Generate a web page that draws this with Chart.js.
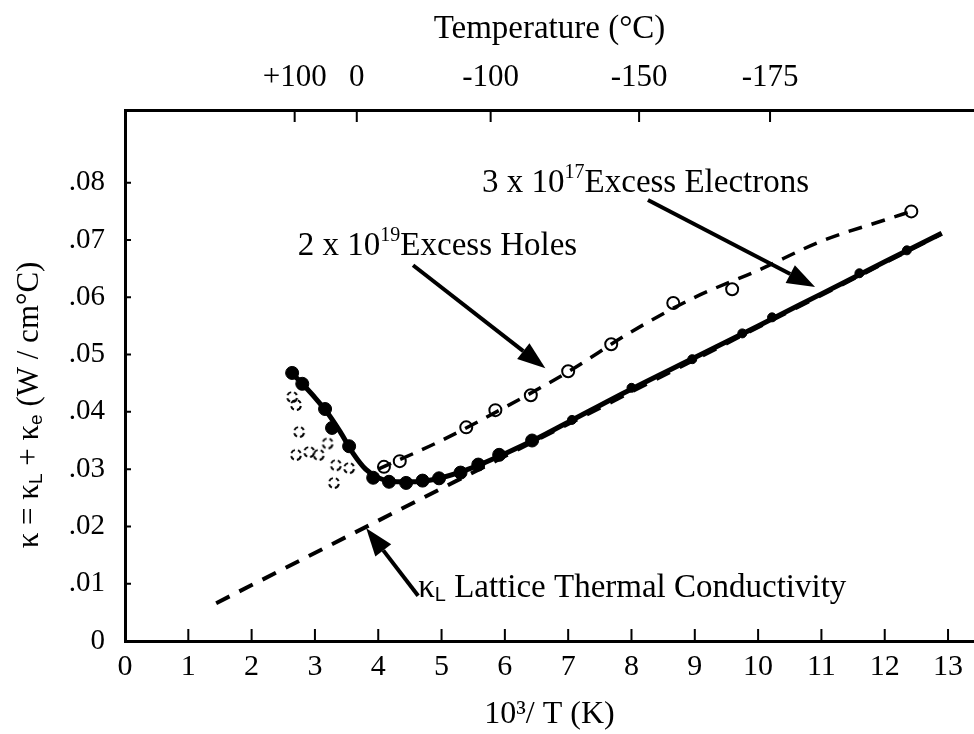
<!DOCTYPE html>
<html>
<head>
<meta charset="utf-8">
<script src="https://cdn.jsdelivr.net/npm/chart.js@4.4.1/dist/chart.umd.min.js"></script>
<style>
  html, body { margin: 0; padding: 0; background: #fff; overflow: hidden; }
  #wrap { width: 974px; height: 734px; }
</style>
</head>
<body>
<div id="wrap"><canvas id="kappa-chart" width="974" height="734"></canvas></div>
<script>
// axis ticks
const xTicks = [0, 1, 2, 3, 4, 5, 6, 7, 8, 9, 10, 11, 12, 13];
const yTicks = [0, 0.01, 0.02, 0.03, 0.04, 0.05, 0.06, 0.07, 0.08];
const yTickLabels = ['0', '.01', '.02', '.03', '.04', '.05', '.06', '.07', '.08'];
const tempTicksC = [100, 0, -100, -150, -175];
const tempTickLabels = ['+100', '0', '-100', '-150', '-175'];

// lattice thermal conductivity (straight dashed line)
const latticeX = [1.44, 12.9];
const latticeK = [0.0066, 0.0711];

// 3 x 10^17 excess electrons: fitted curve and measured points
const electronFitX = [2.6, 2.8, 3.0, 3.2, 3.4, 3.6, 3.8, 4.0, 4.3, 4.6, 5.0, 5.5, 6.0, 6.5, 7.0, 8.0, 9.0, 10.0, 11.0, 12.0, 12.9];
const electronFitK = [0.0472, 0.0449, 0.0425, 0.0398, 0.0365, 0.0328, 0.0300, 0.0285, 0.0278, 0.0278, 0.0285, 0.0303, 0.0327, 0.0353, 0.0382, 0.0440, 0.0495, 0.0550, 0.0606, 0.0662, 0.0712];
const electronX = [2.64, 2.80, 3.16, 3.27, 3.54, 3.92, 4.17, 4.44, 4.70, 4.96, 5.30, 5.58, 5.91, 6.43, 7.06, 8.0, 8.96, 9.75, 10.22, 11.6, 12.35];
const electronK = [0.0468, 0.0449, 0.0405, 0.0372, 0.0340, 0.0285, 0.0278, 0.0276, 0.0280, 0.0284, 0.0294, 0.0308, 0.0325, 0.0350, 0.0386, 0.0442, 0.0492, 0.0537, 0.0565, 0.0642, 0.0682];

// 2 x 10^19 excess holes: fitted curve and measured points
const holesFitX = [4.0, 5.0, 6.0, 7.0, 8.0, 9.0, 10.0, 11.0, 12.0, 12.42];
const holesFitK = [0.0300, 0.0350, 0.0408, 0.0470, 0.0540, 0.0600, 0.0647, 0.0698, 0.0735, 0.0750];
const holesX = [4.09, 4.34, 5.39, 5.85, 6.41, 7.00, 7.68, 8.66, 9.59, 12.42];
const holesK = [0.0304, 0.0314, 0.0373, 0.0403, 0.0429, 0.0471, 0.0518, 0.0590, 0.0614, 0.0750];

// high temperature hole points
const holesHotX = [2.64, 2.70, 2.75, 2.70, 2.91, 3.06, 3.33, 3.30, 3.54, 3.20];
const holesHotK = [0.0426, 0.0412, 0.0365, 0.0325, 0.0330, 0.0325, 0.0307, 0.0276, 0.0302, 0.0345];

const serif = 'Liberation Serif';
const pts = (xs, ys) => xs.map((x, i) => ({ x: x, y: ys[i] }));

// labels and arrows, placed in data coordinates
const notes = [
  { x: 5.64, y: 0.0784, runs: [{ t: '3 x 10' }, { t: '17', sup: true }, { t: 'Excess Electrons' }] },
  { x: 2.73, y: 0.0674, runs: [{ t: '2 x 10' }, { t: '19', sup: true }, { t: 'Excess Holes' }] },
  { x: 4.63, y: 0.0077, runs: [{ t: 'κ' }, { t: 'L', sub: true }, { t: ' Lattice Thermal Conductivity' }] }
];
const arrows = [
  { from: [8.26, 0.0770], to: [10.9, 0.0618] },
  { from: [4.55, 0.0656], to: [6.64, 0.0476] },
  { from: [4.63, 0.0079], to: [3.81, 0.0197] }
];

function drawRuns(ctx, x, y, runs, size) {
  let cx = x;
  runs.forEach(r => {
    if (r.sup) {
      ctx.font = Math.round(size * 0.62) + 'px "' + serif + '"';
      ctx.fillText(r.t, cx, y - size * 0.42);
    } else if (r.sub) {
      ctx.font = Math.round(size * 0.62) + 'px "Liberation Sans"';
      ctx.fillText(r.t, cx, y + size * 0.12);
    } else {
      ctx.font = size + 'px "' + serif + '"';
      ctx.fillText(r.t, cx, y);
    }
    cx += ctx.measureText(r.t).width;
  });
  return cx - x;
}

function runsWidth(ctx, runs, size) {
  let w = 0;
  runs.forEach(r => {
    ctx.font = (r.sup || r.sub) ? Math.round(size * 0.62) + 'px "' + serif + '"' : size + 'px "' + serif + '"';
    w += ctx.measureText(r.t).width;
  });
  return w;
}

// open circle with gaps in its outline
function brokenCircle(r) {
  const c = document.createElement('canvas');
  c.width = c.height = 2 * r + 4;
  const g = c.getContext('2d');
  g.strokeStyle = '#000';
  g.lineWidth = 2;
  [[0.2, 1.4], [2.0, 2.9], [3.5, 4.5], [5.1, 5.9]].forEach(([a, b]) => {
    g.beginPath();
    g.arc(r + 2, r + 2, r, a, b);
    g.stroke();
  });
  return c;
}

const decorations = {
  id: 'decorations',
  afterDraw(chart) {
    const ctx = chart.ctx;
    const xs = chart.scales.x, ys = chart.scales.y, ts = chart.scales.xTemp;
    const area = chart.chartArea;
    ctx.save();
    ctx.strokeStyle = '#000';
    ctx.fillStyle = '#000';

    // inward tick marks
    ctx.lineWidth = 2;
    ctx.beginPath();
    xTicks.slice(1).forEach(v => {
      const px = xs.getPixelForValue(v);
      ctx.moveTo(px, area.bottom);
      ctx.lineTo(px, area.bottom - 12);
    });
    tempTicksC.forEach(c => {
      const px = ts.getPixelForValue(1000 / (c + 273.15));
      ctx.moveTo(px, area.top);
      ctx.lineTo(px, area.top + 12);
    });
    yTicks.slice(1).forEach(v => {
      const py = ys.getPixelForValue(v);
      ctx.moveTo(area.left, py);
      ctx.lineTo(area.left + 6, py);
    });
    ctx.stroke();

    // arrows
    arrows.forEach(a => {
      const x1 = xs.getPixelForValue(a.from[0]), y1 = ys.getPixelForValue(a.from[1]);
      const x2 = xs.getPixelForValue(a.to[0]), y2 = ys.getPixelForValue(a.to[1]);
      const ang = Math.atan2(y2 - y1, x2 - x1);
      const head = 28, half = 10;
      const bx = x2 - head * Math.cos(ang), by = y2 - head * Math.sin(ang);
      ctx.lineWidth = 4;
      ctx.beginPath();
      ctx.moveTo(x1, y1);
      ctx.lineTo(bx, by);
      ctx.stroke();
      ctx.beginPath();
      ctx.moveTo(x2, y2);
      ctx.lineTo(bx + half * Math.sin(ang), by - half * Math.cos(ang));
      ctx.lineTo(bx - half * Math.sin(ang), by + half * Math.cos(ang));
      ctx.closePath();
      ctx.fill();
    });

    // curve labels
    ctx.textBaseline = 'alphabetic';
    ctx.textAlign = 'left';
    notes.forEach(n => {
      drawRuns(ctx, xs.getPixelForValue(n.x), ys.getPixelForValue(n.y), n.runs, 33);
    });

    // rotated y axis title
    const yTitle = [{ t: 'κ = κ' }, { t: 'L', sub: true }, { t: ' + κ' }, { t: 'e', sub: true }, { t: ' (W / cm°C)' }];
    const w = runsWidth(ctx, yTitle, 31);
    ctx.translate(38, (area.top + area.bottom) / 2 + 30);
    ctx.rotate(-Math.PI / 2);
    drawRuns(ctx, -w / 2, 0, yTitle, 31);
    ctx.restore();
  }
};

new Chart(document.getElementById('kappa-chart'), {
  type: 'scatter',
  data: {
    datasets: [
      {
        data: pts(latticeX, latticeK),
        showLine: true,
        borderColor: '#000',
        borderWidth: 4,
        borderDash: [15, 11],
        pointRadius: 0
      },
      {
        data: pts(electronFitX, electronFitK),
        showLine: true,
        borderColor: '#000',
        borderWidth: 5,
        tension: 0.4,
        cubicInterpolationMode: 'monotone',
        pointRadius: 0
      },
      {
        data: pts(electronX, electronK),
        showLine: false,
        backgroundColor: '#000',
        borderColor: '#000',
        pointRadius: ctx => (electronX[ctx.dataIndex] < 7 ? 6.5 : 4.5)
      },
      {
        data: pts(holesHotX, holesHotK),
        showLine: false,
        pointStyle: brokenCircle(5),
        pointRadius: 6
      },
      {
        data: pts(holesFitX, holesFitK),
        showLine: true,
        borderColor: '#000',
        borderWidth: 3.5,
        borderDash: [14, 10],
        tension: 0.4,
        cubicInterpolationMode: 'monotone',
        pointRadius: 0
      },
      {
        data: pts(holesX, holesK),
        showLine: false,
        backgroundColor: '#fff',
        borderColor: '#000',
        pointBorderWidth: 2,
        pointRadius: 6
      }
    ]
  },
  options: {
    responsive: false,
    animation: false,
    devicePixelRatio: 1,
    layout: { autoPadding: false, padding: { left: 0, right: 0, top: 0, bottom: 0 } },
    plugins: {
      legend: { display: false },
      tooltip: { enabled: false }
    },
    scales: {
      x: {
        type: 'linear',
        position: 'bottom',
        min: 0,
        max: 13.41,
        afterBuildTicks: s => { s.ticks = xTicks.map(v => ({ value: v })); },
        afterFit: s => { s.height = 93; },
        ticks: { font: { family: serif, size: 30 }, color: '#000', padding: 0, maxRotation: 0, autoSkip: false, callback: v => String(v) },
        grid: { display: false },
        border: { display: true, color: '#000', width: 3 },
        title: { display: true, text: '10³/ T (K)', color: '#000', font: { family: serif, size: 32 }, padding: { top: 0, bottom: 0 } }
      },
      xTemp: {
        type: 'linear',
        position: 'top',
        min: 0,
        max: 13.41,
        afterBuildTicks: s => { s.ticks = tempTicksC.map(c => ({ value: 1000 / (c + 273.15) })); },
        afterFit: s => { s.height = 110; },
        ticks: { font: { family: serif, size: 31 }, color: '#000', padding: 6, maxRotation: 0, autoSkip: false, callback: (v, i) => tempTickLabels[i] },
        grid: { display: false },
        border: { display: true, color: '#000', width: 3 },
        title: { display: true, text: 'Temperature (°C)', color: '#000', font: { family: serif, size: 33 }, padding: { top: 10, bottom: 0 } }
      },
      y: {
        type: 'linear',
        min: 0,
        max: 0.0927,
        afterBuildTicks: s => { s.ticks = yTicks.map(v => ({ value: v })); },
        afterFit: s => { s.width = 125; },
        ticks: { font: { family: serif, size: 29 }, color: '#000', padding: 12, callback: (v, i) => yTickLabels[i] },
        grid: { display: false },
        border: { display: true, color: '#000', width: 3 }
      }
    }
  },
  plugins: [decorations]
});
</script>
</body>
</html>
